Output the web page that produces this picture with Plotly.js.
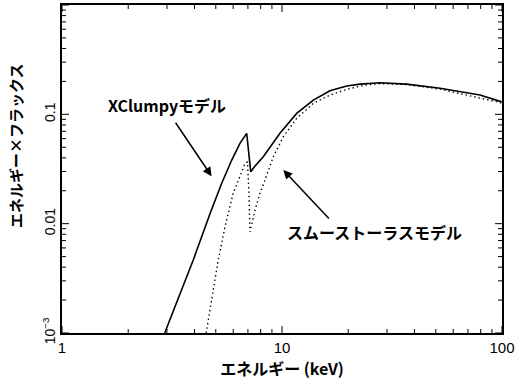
<!DOCTYPE html>
<html>
<head>
<meta charset="utf-8">
<script src="https://cdn.plot.ly/plotly-3.0.1.min.js"></script>
<style>html,body{margin:0;padding:0;background:#fff;}#chart{width:517px;height:383px;}</style>
</head>
<body>
<div id="chart"></div>
<script>
// XClumpy model (solid)
var xclumpyE = [2.93, 3.32, 3.95, 4.71, 5.32, 5.91, 6.44, 6.91, 7.21, 7.54, 8.22, 9.79, 11.66, 13.88, 16.52, 19.68, 22.63, 27.87, 36.9, 52.3, 79.4, 99.7];
var xclumpyF = [0.001, 0.00187, 0.00465, 0.0124, 0.0234, 0.0382, 0.0543, 0.067, 0.0298, 0.0336, 0.0409, 0.067, 0.102, 0.135, 0.164, 0.1815, 0.189, 0.1946, 0.189, 0.173, 0.150, 0.130];
// Smooth torus model (dotted)
var torusE = [4.52, 4.79, 5.13, 5.51, 6.0, 6.79, 6.97, 7.08, 7.15, 7.54, 7.94, 8.37, 9.13, 10.14, 11.66, 13.88, 16.52, 19.68, 23.8, 27.87, 36.9, 52.3, 85.2, 99.7];
var torusF = [0.001, 0.0020, 0.00465, 0.00937, 0.0189, 0.0356, 0.0366, 0.0183, 0.00843, 0.0133, 0.0189, 0.0251, 0.0409, 0.0624, 0.0919, 0.126, 0.150, 0.169, 0.185, 0.191, 0.187, 0.170, 0.135, 0.127];
// Tick values and labels
var xTickVals = [1, 10, 100];
var xTickText = ['1', '10', '100'];
var xMinorVals = [2, 3, 4, 5, 6, 7, 8, 9, 20, 30, 40, 50, 60, 70, 80, 90];
var yTickVals = [0.001, 0.01, 0.1, 1];
var yTickText = ['10<sup>−3</sup>', '0.01', '0.1', '1'];
var yMinorVals = [0.002, 0.003, 0.004, 0.005, 0.006, 0.007, 0.008, 0.009,
                  0.02, 0.03, 0.04, 0.05, 0.06, 0.07, 0.08, 0.09,
                  0.2, 0.3, 0.4, 0.5, 0.6, 0.7, 0.8, 0.9];
var xRange = [0, 2];   // log10 of 1 .. 100
var yRange = [-3, 0];  // log10 of 0.001 .. 1

var jp = '"Noto Sans CJK JP", "Noto Sans", sans-serif';
var num = '"Liberation Sans", Arial, sans-serif';

var traces = [
  {x: xclumpyE, y: xclumpyF, type: 'scatter', mode: 'lines', name: 'XClumpyモデル',
   line: {color: '#000', width: 1.6}},
  {x: torusE, y: torusF, type: 'scatter', mode: 'lines', name: 'スムーストーラスモデル',
   line: {color: '#000', width: 1.4, dash: '1.4px,3px'}}
];

// Inward tick marks on all four sides, placed from the tick value arrays
function xFrac(v) { return (Math.log10(v) - xRange[0]) / (xRange[1] - xRange[0]); }
function yFrac(v) { return (Math.log10(v) - yRange[0]) / (yRange[1] - yRange[0]); }
var tickShapes = [];
function addXTicks(vals, len) {
  vals.forEach(function (v) {
    [[0, len], [1, -len]].forEach(function (s) {
      tickShapes.push({type: 'line', xref: 'paper', yref: 'paper', ysizemode: 'pixel',
        x0: xFrac(v), x1: xFrac(v), yanchor: s[0], y0: 0, y1: s[1],
        line: {color: '#000', width: 1}});
    });
  });
}
function addYTicks(vals, len) {
  vals.forEach(function (v) {
    [[0, len], [1, -len]].forEach(function (s) {
      tickShapes.push({type: 'line', xref: 'paper', yref: 'paper', xsizemode: 'pixel',
        y0: yFrac(v), y1: yFrac(v), xanchor: s[0], x0: 0, x1: s[1],
        line: {color: '#000', width: 1}});
    });
  });
}
addXTicks(xTickVals, 7);
addXTicks(xMinorVals, 4);
addYTicks(yTickVals, 7);
addYTicks(yMinorVals, 4);

var layout = {
  width: 517, height: 383,
  margin: {l: 62, r: 15, t: 5, b: 50},
  showlegend: false,
  xaxis: {
    type: 'log', range: xRange, showgrid: false, zeroline: false,
    showline: true, linecolor: '#000', linewidth: 1.5, mirror: true,
    tickmode: 'array', tickvals: xTickVals, ticktext: xTickText, ticks: '',
    tickfont: {family: num, size: 15, color: '#000'},
    title: {text: '<b>エネルギー (keV)</b>', font: {family: jp, size: 16, color: '#000'}, standoff: 6}
  },
  yaxis: {
    type: 'log', range: yRange, showgrid: false, zeroline: false,
    showline: true, linecolor: '#000', linewidth: 1.5, mirror: true,
    tickmode: 'array', tickvals: yTickVals, ticktext: yTickText, tickangle: -90, ticks: '',
    tickfont: {family: num, size: 14, color: '#000'}
  },
  shapes: tickShapes,
  annotations: [
    {xref: 'paper', yref: 'paper', x: -0.107, y: 0.573, xanchor: 'center', yanchor: 'middle',
     text: '<b>エネルギー×フラックス</b>',
     textangle: -90, showarrow: false, font: {family: jp, size: 15, color: '#000'}},
    {xref: 'paper', yref: 'paper', x: 0.2386, y: 0.695, xanchor: 'center', yanchor: 'middle',
     text: '<b>XClumpyモデル</b>',
     showarrow: false, font: {family: jp, size: 16, color: '#000'}},
    {xref: 'paper', yref: 'paper', x: 0.711, y: 0.308, xanchor: 'center', yanchor: 'middle',
     text: '<b>スムーストーラスモデル</b>',
     showarrow: false, font: {family: jp, size: 16, color: '#000'}},
    {xref: 'paper', yref: 'paper', x: 0.340, y: 0.478, text: '', showarrow: true,
     ax: -37, ay: -55, arrowhead: 2, arrowsize: 1.2, arrowwidth: 1.5, arrowcolor: '#000'},
    {xref: 'paper', yref: 'paper', x: 0.503, y: 0.497, text: '', showarrow: true,
     ax: 47, ay: 50, arrowhead: 2, arrowsize: 1.2, arrowwidth: 1.5, arrowcolor: '#000'}
  ]
};

Plotly.newPlot('chart', traces, layout, {displayModeBar: false});
</script>
</body>
</html>
